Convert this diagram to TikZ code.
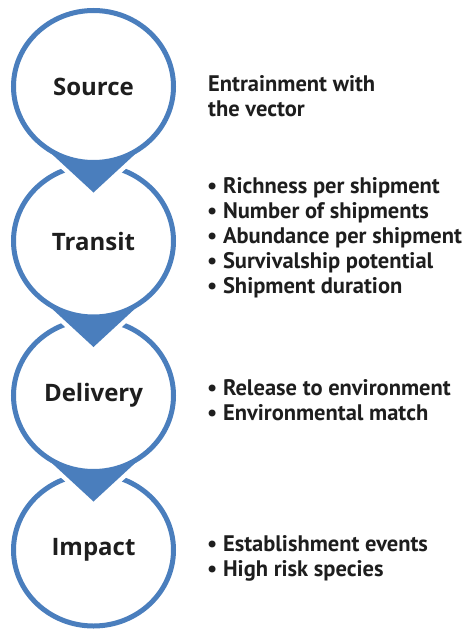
\documentclass[tikz,border=0pt]{standalone}
\usepackage{fontspec}
\setmainfont{PT Sans}
\newfontfamily\stagefont{Open Sans}
\usetikzlibrary{calc,shapes.geometric}
\definecolor{stageblue}{RGB}{74,126,189}
\definecolor{labelgray}{RGB}{30,30,30}
\newcommand{\factorbullet}{\textbullet\ }
% pointer below a stage circle, from its centre coordinate
\newcommand{\stagepointer}[1]{%
  \fill[pointer] ($(#1)+(-55.8,54.5)$) -- ($(#1)+(0,106)$) -- ($(#1)+(55.8,54.5)$) -- cycle;}

\begin{document}
\begin{tikzpicture}[
  x=1pt, y=-1pt,
  stage/.style={
    ellipse,
    draw=stageblue,
    line width=5pt,
    fill=white,
    minimum width=160pt,
    minimum height=152pt,
    inner sep=0pt,
    text=labelgray,
    font=\stagefont\bfseries\fontsize{24}{28}\selectfont,
  },
  pointer/.style={fill=stageblue, preaction={draw=white, line width=9pt, line join=round}},
  factors/.style={
    anchor=west,
    align=left,
    inner sep=0pt,
    text=labelgray,
    font=\bfseries\fontsize{22.5}{25}\selectfont,
  },
]
\useasboundingbox (0,0) rectangle (464,634);

\coordinate (source_c) at (93.5,86.5);
\coordinate (transit_c) at (93.5,241);
\coordinate (delivery_c) at (93.5,395.5);
\coordinate (impact_c) at (93.5,550);

% stages, drawn from the bottom up
\node[stage] (impact) at (impact_c) {Impact};
\stagepointer{delivery_c}
\node[stage] (delivery) at (delivery_c) {Delivery};
\stagepointer{transit_c}
\node[stage] (transit) at (transit_c) {Transit};
\stagepointer{source_c}
\node[stage] (source) at (source_c) {Source};

% factors beside each stage
\node[factors] (source_text) at (208,96) {Entrainment with\\the vector};
\node[factors] (transit_text) at (207,238) {\factorbullet Richness per shipment\\\factorbullet Number of shipments\\\factorbullet Abundance per shipment\\\factorbullet Survivalship potential\\\factorbullet Shipment duration};
\node[factors] (delivery_text) at (207,400) {\factorbullet Release to environment\\\factorbullet Environmental match};
\node[factors] (impact_text) at (207,558) {\factorbullet Establishment events\\\factorbullet High risk species};

\end{tikzpicture}
\end{document}
